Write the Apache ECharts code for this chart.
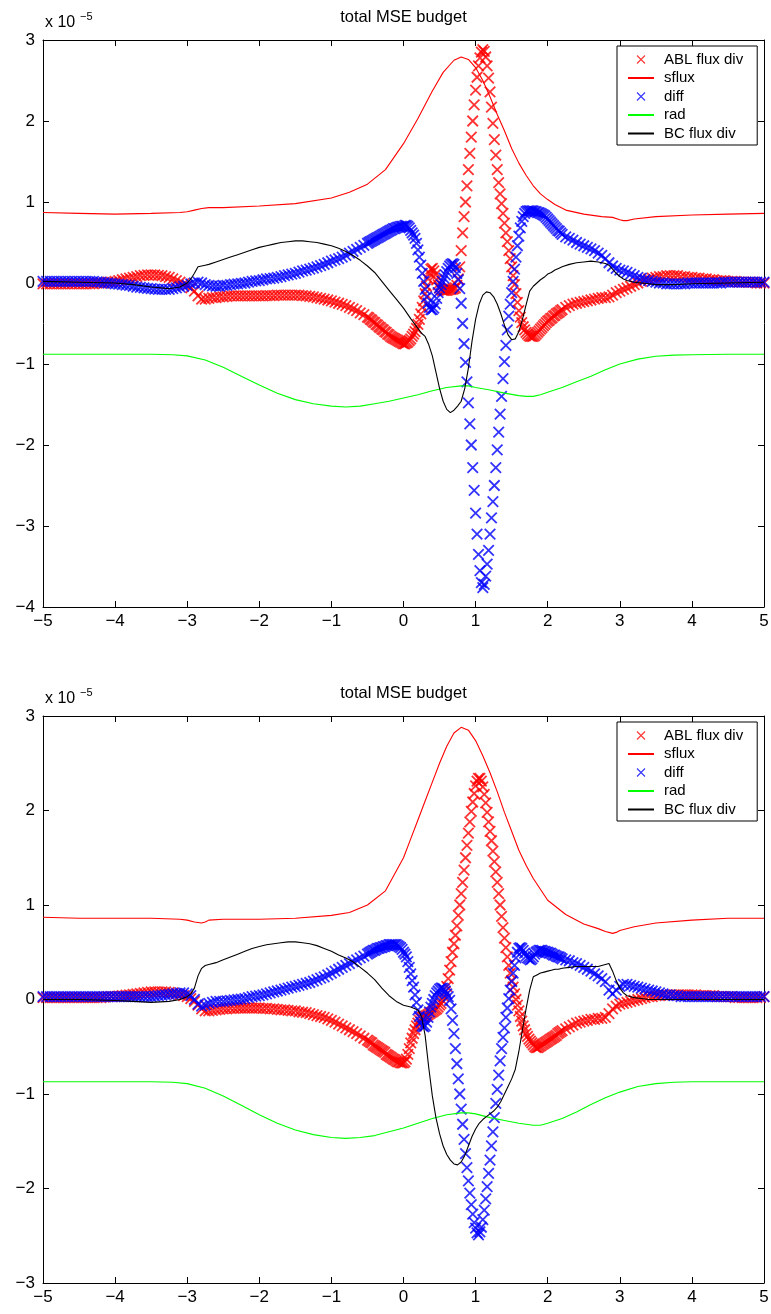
<!DOCTYPE html>
<html><head><meta charset="utf-8">
<script src="https://cdn.jsdelivr.net/npm/echarts/dist/echarts.min.js"></script>
<style>html,body{margin:0;padding:0;background:#fff}#c{width:771px;height:1314px}</style>
</head><body><div id="c"></div>
<script>
// ---------- marker x grid ----------
const xMA = [-5.00,-4.95,-4.90,-4.85,-4.80,-4.75,-4.70,-4.65,-4.60,-4.55,
-4.50,-4.45,-4.40,-4.35,-4.30,-4.25,-4.20,-4.15,-4.10,-4.05,
-4.00,-3.95,-3.90,-3.85,-3.80,-3.75,-3.70,-3.65,-3.60,-3.55,
-3.50,-3.45,-3.40,-3.35,-3.30,-3.25,-3.20,-3.15,-3.10,-3.05,
-3.00,-2.95,-2.90,-2.85,-2.80,-2.75,-2.70,-2.65,-2.60,-2.55,
-2.50,-2.45,-2.40,-2.35,-2.30,-2.25,-2.20,-2.15,-2.10,-2.05,
-2.00,-1.95,-1.90,-1.85,-1.80,-1.75,-1.70,-1.65,-1.60,-1.55,
-1.50,-1.45,-1.40,-1.35,-1.30,-1.25,-1.20,-1.15,-1.10,-1.05,
-1.00,-0.95,-0.90,-0.85,-0.80,-0.75,-0.70,-0.65,-0.60,-0.55,
-0.50];
const xMB = [-0.48,-0.46,-0.44,-0.42,-0.40,-0.38,-0.36,-0.34,-0.32,-0.30,
-0.28,-0.26,-0.24,-0.22,-0.20,-0.18,-0.16,-0.14,-0.12,-0.10,
-0.08,-0.06,-0.04,-0.02,0.00,0.02,0.04,0.06,0.08,0.10,
0.12,0.14,0.16,0.18,0.20,0.22,0.24,0.26,0.28,0.30,
0.32,0.34,0.36,0.38,0.40,0.42,0.44,0.46,0.48,0.50,
0.52,0.54,0.56,0.58,0.60,0.62,0.64,0.66,0.68,0.70,
0.72,0.74,0.76,0.78,0.80,0.82,0.84,0.86,0.88,0.90,
0.92,0.94,0.96,0.98,1.00,1.02,1.04,1.06,1.08,1.10,
1.12,1.14,1.16,1.18,1.20,1.22,1.24,1.26,1.28,1.30,
1.32,1.34,1.36,1.38,1.40,1.42,1.44,1.46,1.48,1.50,
1.52,1.54,1.56,1.58,1.60,1.62,1.64,1.66,1.68,1.70,
1.72,1.74,1.76,1.78,1.80,1.82,1.84,1.86,1.88,1.90,
1.92,1.94,1.96,1.98,2.00,2.02,2.04,2.06,2.08,2.10,
2.12,2.14,2.16,2.18,2.20];
const xMC = [2.25,2.30,2.35,2.40,2.45,2.50,2.55,2.60,2.65,2.70,
2.75,2.80,2.85,2.90,2.95,3.00,3.05,3.10,3.15,3.20,
3.25,3.30,3.35,3.40,3.45,3.50,3.55,3.60,3.65,3.70,
3.75,3.80,3.85,3.90,3.95,4.00,4.05,4.10,4.15,4.20,
4.25,4.30,4.35,4.40,4.45,4.50,4.55,4.60,4.65,4.70,
4.75,4.80,4.85,4.90,4.95,5.00];

// ---------- top panel: ABL flux div (x markers) ----------
const abl1 = [
-0.01,-0.01,-0.01,-0.01,-0.01,-0.01,-0.01,-0.01,-0.01,-0.01,
-0.01,-0.01,-0.01,-0.01,-0.01,0,0,0,0.01,0.01,
0.02,0.03,0.04,0.05,0.06,0.07,0.08,0.09,0.095,0.1,
0.1,0.1,0.095,0.09,0.08,0.07,0.05,0.03,0.01,-0.01,
-0.03,-0.06,-0.1,-0.16,-0.2,-0.2,-0.19,-0.18,-0.18,-0.17,
-0.17,-0.165,-0.16,-0.16,-0.16,-0.16,-0.16,-0.16,-0.16,-0.16,
-0.16,-0.16,-0.155,-0.155,-0.155,-0.15,-0.15,-0.15,-0.15,-0.15,
-0.15,-0.15,-0.155,-0.16,-0.165,-0.17,-0.18,-0.19,-0.2,-0.21,
-0.22,-0.235,-0.25,-0.265,-0.28,-0.3,-0.32,-0.34,-0.37,-0.39,
-0.42,
-0.43,-0.45,-0.46,-0.48,-0.49,-0.51,-0.52,-0.54,-0.55,-0.57,
-0.58,-0.6,-0.61,-0.63,-0.64,-0.66,-0.67,-0.68,-0.69,-0.7,
-0.71,-0.72,-0.73,-0.74,-0.75,-0.75,-0.74,-0.73,-0.71,-0.69,
-0.66,-0.63,-0.6,-0.56,-0.51,-0.45,-0.38,-0.3,-0.22,-0.13,
-0.04,0.05,0.12,0.17,0.18,0.15,0.1,0.04,-0.02,-0.06,
-0.08,-0.09,-0.09,-0.09,-0.09,-0.085,-0.08,-0.08,-0.075,-0.07,
-0.06,-0.03,0.05,0.2,0.4,0.62,0.82,1.0,1.2,1.4,
1.6,1.8,2.0,2.2,2.38,2.54,2.68,2.78,2.85,2.88,
2.86,2.79,2.68,2.53,2.36,2.17,1.97,1.77,1.58,1.4,
1.24,1.1,0.98,0.86,0.74,0.62,0.51,0.4,0.3,0.2,
0.09,-0.02,-0.13,-0.24,-0.34,-0.42,-0.49,-0.54,-0.58,-0.61,
-0.63,-0.65,-0.66,-0.66,-0.66,-0.65,-0.63,-0.61,-0.59,-0.57,
-0.55,-0.53,-0.51,-0.49,-0.47,-0.46,-0.44,-0.43,-0.41,-0.4,
-0.38,-0.37,-0.36,-0.34,-0.33,
-0.3,-0.28,-0.26,-0.25,-0.24,-0.23,-0.22,-0.21,-0.2,-0.19,
-0.18,-0.18,-0.17,-0.15,-0.12,-0.1,-0.08,-0.06,-0.04,-0.02,
0,0.02,0.04,0.05,0.06,0.07,0.08,0.08,0.09,0.09,
0.09,0.09,0.08,0.08,0.07,0.07,0.06,0.06,0.05,0.05,
0.04,0.04,0.03,0.03,0.03,0.02,0.02,0.02,0.01,0.01,
0.01,0.01,0.01,0,0,0];

// ---------- top panel: diff (x markers) ----------
const dif1 = [
0.02,0.02,0.02,0.02,0.02,0.02,0.02,0.02,0.02,0.02,
0.02,0.02,0.02,0.02,0.02,0.015,0.01,0.005,0,-0.005,
-0.01,-0.015,-0.02,-0.025,-0.03,-0.04,-0.05,-0.055,-0.06,-0.065,
-0.07,-0.075,-0.08,-0.08,-0.08,-0.08,-0.07,-0.06,-0.05,-0.04,
-0.03,-0.01,0,0.01,0,-0.02,-0.03,-0.035,-0.04,-0.04,
-0.03,-0.03,-0.02,-0.015,-0.01,-0.005,0,0.01,0.02,0.025,
0.03,0.04,0.05,0.055,0.06,0.07,0.08,0.09,0.1,0.11,
0.12,0.135,0.15,0.16,0.17,0.185,0.2,0.215,0.23,0.25,
0.27,0.285,0.3,0.32,0.34,0.37,0.39,0.415,0.44,0.465,
0.49,
0.5,0.51,0.52,0.53,0.54,0.55,0.56,0.57,0.58,0.59,
0.6,0.61,0.62,0.63,0.64,0.65,0.66,0.67,0.67,0.68,
0.69,0.69,0.7,0.7,0.7,0.71,0.71,0.7,0.68,0.65,
0.62,0.59,0.55,0.49,0.41,0.32,0.22,0.12,0.02,-0.08,
-0.17,-0.25,-0.3,-0.33,-0.33,-0.31,-0.26,-0.19,-0.12,-0.06,
-0.02,0.02,0.06,0.1,0.14,0.18,0.21,0.23,0.24,0.23,
0.19,0.12,0.04,-0.07,-0.25,-0.5,-0.75,-0.98,-1.22,-1.48,
-1.74,-2.0,-2.28,-2.56,-2.84,-3.1,-3.35,-3.55,-3.7,-3.76,
-3.72,-3.62,-3.47,-3.3,-3.1,-2.9,-2.7,-2.5,-2.28,-2.06,
-1.84,-1.62,-1.4,-1.18,-0.97,-0.77,-0.58,-0.41,-0.26,-0.12,
0.02,0.17,0.32,0.46,0.58,0.68,0.76,0.82,0.86,0.88,
0.89,0.89,0.89,0.89,0.89,0.88,0.88,0.87,0.87,0.86,
0.85,0.84,0.83,0.81,0.79,0.77,0.75,0.73,0.71,0.69,
0.67,0.65,0.64,0.62,0.6,
0.57,0.55,0.53,0.5,0.48,0.46,0.44,0.42,0.4,0.37,
0.34,0.3,0.25,0.21,0.18,0.16,0.15,0.13,0.11,0.09,
0.07,0.06,0.04,0.03,0.02,0.01,0,0,-0.01,-0.01,
-0.01,-0.01,-0.01,-0.01,0,0,0,0,0,0,
0,0,0,0,0.01,0.01,0.01,0.01,0.01,0.01,
0.01,0.01,0.01,0.01,0.01,0.01];

// ---------- bottom panel: ABL flux div ----------
const abl2 = [
0.02,0.02,0.02,0.02,0.02,0.02,0.02,0.02,0.02,0.02,
0.02,0.02,0.02,0.02,0.02,0.02,0.02,0.025,0.03,0.03,
0.03,0.035,0.04,0.045,0.05,0.055,0.06,0.065,0.07,0.075,
0.08,0.08,0.08,0.08,0.08,0.075,0.07,0.06,0.05,0.04,
0.03,0.01,-0.02,-0.06,-0.1,-0.12,-0.12,-0.115,-0.11,-0.105,
-0.1,-0.1,-0.095,-0.095,-0.09,-0.09,-0.09,-0.09,-0.09,-0.09,
-0.09,-0.095,-0.095,-0.1,-0.1,-0.105,-0.11,-0.11,-0.115,-0.12,
-0.12,-0.13,-0.135,-0.14,-0.15,-0.16,-0.17,-0.18,-0.19,-0.205,
-0.22,-0.24,-0.26,-0.28,-0.3,-0.32,-0.34,-0.36,-0.385,-0.41,
-0.43,
-0.44,-0.45,-0.46,-0.48,-0.49,-0.5,-0.51,-0.52,-0.53,-0.54,
-0.55,-0.56,-0.58,-0.59,-0.6,-0.61,-0.62,-0.63,-0.64,-0.65,
-0.66,-0.66,-0.67,-0.67,-0.67,-0.66,-0.63,-0.58,-0.52,-0.46,
-0.41,-0.36,-0.32,-0.28,-0.25,-0.22,-0.2,-0.19,-0.18,-0.18,
-0.17,-0.16,-0.15,-0.14,-0.13,-0.12,-0.11,-0.1,-0.08,-0.06,
-0.04,-0.01,0.03,0.08,0.14,0.22,0.31,0.4,0.5,0.59,
0.68,0.78,0.89,1.0,1.12,1.24,1.37,1.5,1.63,1.76,
1.88,1.99,2.09,2.18,2.26,2.31,2.34,2.34,2.31,2.25,
2.17,2.08,1.98,1.88,1.78,1.68,1.57,1.46,1.35,1.24,
1.12,1.0,0.88,0.76,0.65,0.55,0.45,0.36,0.28,0.2,
0.13,0.06,0,-0.06,-0.12,-0.18,-0.23,-0.28,-0.32,-0.36,
-0.39,-0.42,-0.44,-0.46,-0.48,-0.5,-0.51,-0.51,-0.5,-0.49,
-0.48,-0.47,-0.46,-0.45,-0.44,-0.43,-0.42,-0.41,-0.4,-0.39,
-0.38,-0.36,-0.35,-0.34,-0.33,
-0.31,-0.29,-0.27,-0.25,-0.24,-0.23,-0.22,-0.21,-0.21,-0.2,
-0.2,-0.19,-0.15,-0.1,-0.07,-0.05,-0.04,-0.03,-0.02,-0.01,
0,0.01,0.02,0.03,0.03,0.04,0.04,0.05,0.05,0.05,
0.05,0.05,0.05,0.05,0.05,0.05,0.05,0.04,0.04,0.04,
0.04,0.04,0.03,0.03,0.03,0.03,0.03,0.02,0.02,0.02,
0.02,0.02,0.02,0.02,0.02,0.03];

// ---------- bottom panel: diff ----------
const dif2 = [
0.03,0.03,0.03,0.03,0.03,0.03,0.03,0.03,0.03,0.03,
0.03,0.03,0.03,0.03,0.03,0.03,0.03,0.03,0.03,0.03,
0.03,0.03,0.03,0.03,0.03,0.03,0.03,0.03,0.03,0.03,
0.03,0.035,0.04,0.045,0.05,0.055,0.06,0.065,0.07,0.07,
0.06,0.04,0,-0.05,-0.07,-0.06,-0.04,-0.03,-0.02,-0.02,
-0.02,-0.015,-0.01,-0.005,0,0.005,0.01,0.02,0.03,0.035,
0.04,0.05,0.06,0.07,0.08,0.09,0.1,0.11,0.12,0.13,
0.14,0.15,0.16,0.17,0.18,0.195,0.21,0.225,0.24,0.26,
0.28,0.3,0.32,0.34,0.36,0.38,0.4,0.42,0.44,0.46,
0.48,
0.49,0.5,0.51,0.52,0.52,0.53,0.54,0.54,0.55,0.55,
0.56,0.56,0.57,0.57,0.58,0.58,0.58,0.58,0.58,0.58,
0.57,0.56,0.55,0.53,0.5,0.48,0.45,0.4,0.34,0.27,
0.2,0.13,0.05,-0.03,-0.11,-0.18,-0.24,-0.28,-0.29,-0.28,
-0.24,-0.19,-0.13,-0.08,-0.04,0,0.04,0.07,0.09,0.11,
0.12,0.12,0.11,0.09,0.06,0.03,-0.01,-0.1,-0.22,-0.36,
-0.52,-0.68,-0.84,-1.0,-1.16,-1.32,-1.48,-1.63,-1.78,-1.92,
-2.05,-2.17,-2.27,-2.36,-2.42,-2.47,-2.49,-2.46,-2.41,-2.33,
-2.23,-2.11,-1.98,-1.84,-1.7,-1.55,-1.4,-1.25,-1.1,-0.95,
-0.8,-0.65,-0.52,-0.4,-0.3,-0.19,-0.09,0.01,0.1,0.19,
0.28,0.36,0.44,0.5,0.54,0.55,0.54,0.52,0.49,0.46,
0.44,0.43,0.42,0.43,0.45,0.48,0.5,0.51,0.52,0.52,
0.52,0.51,0.51,0.5,0.5,0.49,0.49,0.48,0.47,0.47,
0.46,0.45,0.45,0.44,0.43,
0.42,0.41,0.39,0.38,0.36,0.34,0.32,0.3,0.27,0.25,
0.22,0.19,0.1,0.06,0.1,0.14,0.16,0.16,0.15,0.14,
0.13,0.12,0.11,0.1,0.09,0.08,0.07,0.06,0.05,0.05,
0.04,0.04,0.03,0.03,0.03,0.03,0.03,0.03,0.03,0.03,
0.03,0.03,0.03,0.03,0.03,0.03,0.03,0.03,0.03,0.03,
0.03,0.03,0.03,0.03,0.03,0.03];

// ---------- line series ----------
const xS1 = [-5,-4.5,-4,-3.5,-3.1,-3,-2.9,-2.8,-2.7,-2.5,-2,-1.5,-1,-0.75,-0.5,-0.25,0,0.2,0.4,0.55,0.7,0.8,0.9,1,1.1,1.2,1.3,1.4,1.5,1.6,1.7,1.8,1.9,2,2.1,2.25,2.5,2.75,2.9,3,3.05,3.1,3.2,3.5,4,4.5,5];
const sflux1 = [0.87,0.86,0.85,0.86,0.87,0.88,0.9,0.92,0.93,0.93,0.95,0.98,1.05,1.12,1.22,1.4,1.72,2.03,2.37,2.6,2.75,2.79,2.76,2.66,2.5,2.3,2.08,1.88,1.66,1.48,1.33,1.2,1.1,1.03,0.97,0.9,0.85,0.82,0.81,0.78,0.77,0.77,0.79,0.82,0.84,0.85,0.86];
const xS2 = [-5,-4.5,-4,-3.5,-3.1,-3,-2.9,-2.8,-2.75,-2.7,-2.5,-2,-1.5,-1,-0.75,-0.5,-0.25,0,0.1,0.2,0.3,0.4,0.5,0.6,0.7,0.8,0.9,1,1.1,1.2,1.3,1.4,1.5,1.6,1.7,1.8,2,2.25,2.5,2.7,2.8,2.9,2.95,3,3.2,3.5,4,4.5,5];
const sflux2 = [0.87,0.86,0.86,0.86,0.85,0.84,0.82,0.81,0.82,0.84,0.85,0.85,0.86,0.89,0.92,1.0,1.15,1.5,1.7,1.9,2.1,2.3,2.5,2.68,2.82,2.88,2.85,2.74,2.58,2.4,2.2,1.98,1.78,1.58,1.42,1.28,1.05,0.9,0.8,0.75,0.72,0.7,0.71,0.73,0.77,0.81,0.84,0.86,0.86];

const xR = [-5,-4,-3.5,-3.2,-3,-2.75,-2.5,-2.25,-2,-1.75,-1.5,-1.25,-1,-0.8,-0.6,-0.4,-0.2,0,0.2,0.4,0.6,0.8,0.9,1,1.2,1.4,1.6,1.7,1.8,1.9,2,2.2,2.4,2.6,2.8,3,3.25,3.5,3.75,4,4.5,5];
const rad1 = [-0.88,-0.88,-0.88,-0.885,-0.9,-0.95,-1.04,-1.15,-1.26,-1.36,-1.44,-1.49,-1.52,-1.53,-1.52,-1.49,-1.46,-1.42,-1.38,-1.33,-1.29,-1.27,-1.27,-1.29,-1.32,-1.36,-1.39,-1.4,-1.4,-1.38,-1.35,-1.29,-1.22,-1.15,-1.07,-1.0,-0.94,-0.905,-0.89,-0.885,-0.88,-0.88];
const rad2 = [-0.87,-0.87,-0.87,-0.875,-0.89,-0.94,-1.02,-1.12,-1.22,-1.31,-1.38,-1.43,-1.46,-1.47,-1.46,-1.44,-1.4,-1.36,-1.31,-1.26,-1.22,-1.2,-1.2,-1.21,-1.25,-1.28,-1.31,-1.32,-1.33,-1.33,-1.31,-1.26,-1.19,-1.11,-1.04,-0.98,-0.92,-0.89,-0.875,-0.87,-0.87,-0.87];

const xB = [-5,-4.5,-4,-3.75,-3.5,-3.25,-3.1,-3,-2.95,-2.9,
-2.85,-2.8,-2.75,-2.7,-2.6,-2.5,-2.4,-2.3,-2.2,-2.1,
-2,-1.9,-1.8,-1.7,-1.6,-1.5,-1.4,-1.3,-1.2,-1.1,
-1,-0.9,-0.8,-0.7,-0.6,-0.5,-0.4,-0.3,-0.2,-0.1,
0,0.1,0.2,0.25,0.3,0.35,0.4,0.45,0.5,0.55,
0.6,0.65,0.7,0.75,0.8,0.85,0.9,0.95,1,1.05,
1.1,1.15,1.2,1.25,1.3,1.35,1.4,1.45,1.5,1.55,
1.6,1.65,1.7,1.75,1.8,1.85,1.9,1.95,2,2.05,
2.1,2.15,2.2,2.3,2.4,2.5,2.6,2.7,2.75,2.8,
2.85,2.9,2.95,3,3.05,3.1,3.2,3.3,3.4,3.5,
3.75,4,4.5,5];
const bc1 = [0.02,0.01,0,-0.02,-0.05,-0.07,-0.05,0,0.05,0.12,
0.2,0.21,0.22,0.23,0.26,0.29,0.32,0.35,0.38,0.41,
0.44,0.46,0.48,0.5,0.51,0.52,0.52,0.51,0.5,0.48,
0.46,0.43,0.39,0.34,0.28,0.21,0.13,0.02,-0.09,-0.2,
-0.31,-0.44,-0.56,-0.62,-0.66,-0.76,-0.9,-1.1,-1.3,-1.46,
-1.56,-1.6,-1.57,-1.52,-1.46,-1.3,-1.05,-0.72,-0.45,-0.26,
-0.15,-0.11,-0.12,-0.17,-0.26,-0.38,-0.52,-0.64,-0.7,-0.69,
-0.6,-0.45,-0.27,-0.1,-0.04,0,0.04,0.07,0.11,0.13,
0.16,0.18,0.2,0.23,0.25,0.26,0.27,0.26,0.25,0.24,
0.22,0.17,0.12,0.08,0.05,0.03,0.01,0,-0.01,-0.02,
-0.02,-0.01,0,0.01];
const bc2 = [0,0,-0.01,-0.02,-0.03,-0.02,0,0.03,0.06,0.12,
0.25,0.33,0.36,0.37,0.39,0.42,0.45,0.48,0.51,0.54,
0.56,0.58,0.59,0.6,0.61,0.61,0.6,0.59,0.57,0.54,
0.51,0.47,0.44,0.4,0.34,0.28,0.21,0.12,0.04,-0.02,
-0.06,-0.08,-0.11,-0.18,-0.38,-0.72,-1.02,-1.25,-1.42,-1.55,
-1.64,-1.7,-1.74,-1.75,-1.72,-1.65,-1.55,-1.45,-1.37,-1.31,
-1.27,-1.24,-1.21,-1.18,-1.14,-1.08,-1.0,-0.92,-0.84,-0.74,
-0.55,-0.32,-0.1,0.1,0.24,0.26,0.28,0.29,0.3,0.31,
0.32,0.32,0.33,0.34,0.35,0.35,0.35,0.35,0.36,0.37,
0.38,0.3,0.2,0.12,0.07,0.04,0.02,0.01,0,0,
0,0,0,0];

const names = ['ABL flux div','sflux','diff','rad','BC flux div'];
const lineNames = ['sflux','rad','BC flux div'];
const xRange = [-5,5];
const yRange1 = [-4,3];
const yRange2 = [-3,3];
const titleText = 'total MSE budget';

// ---------- build ----------
const F = 'Liberation Sans, Arial, Helvetica, sans-serif';
const X_SYM = 'path://M0,0L10,10M10,0L0,10';
const xM = xMA.concat(xMB, xMC);
const pairs = (xs, ys) => xs.map((x, i) => [x, ys[i]]);
const fmt = v => String(v).replace('-', '\u2212');

const GL = 43, GR = 7, GH = 567, TOP1 = 40, TOP2 = 716;

function axesFor(g, yr) {
  const common = {gridIndex: g, type: 'value', splitLine: {show: false},
    axisLine: {onZero: false, lineStyle: {color: '#000', width: 1}},
    axisTick: {inside: true, length: 6, lineStyle: {color: '#000', width: 1}}};
  const xa = [
    Object.assign({}, common, {min: xRange[0], max: xRange[1], interval: 1, position: 'bottom',
      axisLabel: {color: '#000', fontSize: 17, fontFamily: F, margin: 6, formatter: fmt, showMinLabel: true, showMaxLabel: true}}),
    Object.assign({}, common, {min: xRange[0], max: xRange[1], interval: 1, position: 'top', axisLabel: {show: false}})
  ];
  const ya = [
    Object.assign({}, common, {min: yr[0], max: yr[1], interval: 1, position: 'left',
      axisLabel: {color: '#000', fontSize: 17, fontFamily: F, margin: 8, formatter: fmt, showMinLabel: true, showMaxLabel: true}}),
    Object.assign({}, common, {min: yr[0], max: yr[1], interval: 1, position: 'right', axisLabel: {show: false}})
  ];
  return {xa, ya};
}
const a1 = axesFor(0, yRange1), a2 = axesFor(1, yRange2);

function seriesFor(g, abl, sflux, xs, dif, rad, bc) {
  const xi = g * 2, yi = g * 2;
  const sc = (name, data, color) => ({type: 'scatter', name, xAxisIndex: xi, yAxisIndex: yi, data,
    symbol: X_SYM, symbolSize: 10.5, silent: true,
    itemStyle: {color: 'rgba(0,0,0,0)', borderColor: color, borderWidth: 1.8}});
  const ln = (name, data, color) => ({type: 'line', name, xAxisIndex: xi, yAxisIndex: yi, data,
    symbol: 'none', showSymbol: false, silent: true, smooth: false,
    lineStyle: {color, width: 1.1}, itemStyle: {color}});
  return [
    sc(names[0], pairs(xM, abl), '#ff0000'),
    ln(names[1], pairs(xs, sflux), '#ff0000'),
    sc(names[2], pairs(xM, dif), '#0000ff'),
    ln(names[3], pairs(xR, rad), '#00ff00'),
    ln(names[4], pairs(xB, bc), '#000000')
  ];
}

function legendAt(top) {
  return {orient: 'vertical', left: 617, top, padding: [6, 14, 4, 10], itemGap: 3.5,
    itemWidth: 26, itemHeight: 8, selectedMode: false,
    backgroundColor: '#fff', borderColor: '#000', borderWidth: 1, borderRadius: 0,
    textStyle: {color: '#000', fontSize: 15, fontFamily: F, padding: [0, 0, 0, 5]},
    data: names.map(n => lineNames.includes(n)
      ? {name: n, itemStyle: {opacity: 0}}
      : {name: n, itemStyle: {borderWidth: 1.1}})};
}

function texts(dy) {
  return [
    {type: 'text', x: 403.5, y: 17 + dy, style: {text: titleText, align: 'center', verticalAlign: 'middle', fontSize: 16.5, fontFamily: F, fill: '#000'}},
    {type: 'text', x: 45, y: 31 + dy, style: {text: 'x 10', align: 'left', verticalAlign: 'bottom', fontSize: 16, fontFamily: F, fill: '#000'}},
    {type: 'text', x: 80, y: 22 + dy, style: {text: '\u22125', align: 'left', verticalAlign: 'bottom', fontSize: 11, fontFamily: F, fill: '#000'}}
  ];
}

const chart = echarts.init(document.getElementById('c'), null, {renderer: 'canvas'});
chart.setOption({
  animation: false,
  backgroundColor: '#fff',
  grid: [
    {left: GL, right: GR, top: TOP1, height: GH, containLabel: false, outerBoundsMode: 'none'},
    {left: GL, right: GR, top: TOP2, height: GH, containLabel: false, outerBoundsMode: 'none'}
  ],
  xAxis: a1.xa.concat(a2.xa.map(a => Object.assign({}, a, {gridIndex: 1}))),
  yAxis: a1.ya.concat(a2.ya.map(a => Object.assign({}, a, {gridIndex: 1}))),
  legend: [legendAt(46), legendAt(722)],
  graphic: texts(0).concat(texts(676)),
  series: seriesFor(0, abl1, sflux1, xS1, dif1, rad1, bc1)
    .concat(seriesFor(1, abl2, sflux2, xS2, dif2, rad2, bc2))
});
</script></body></html>
